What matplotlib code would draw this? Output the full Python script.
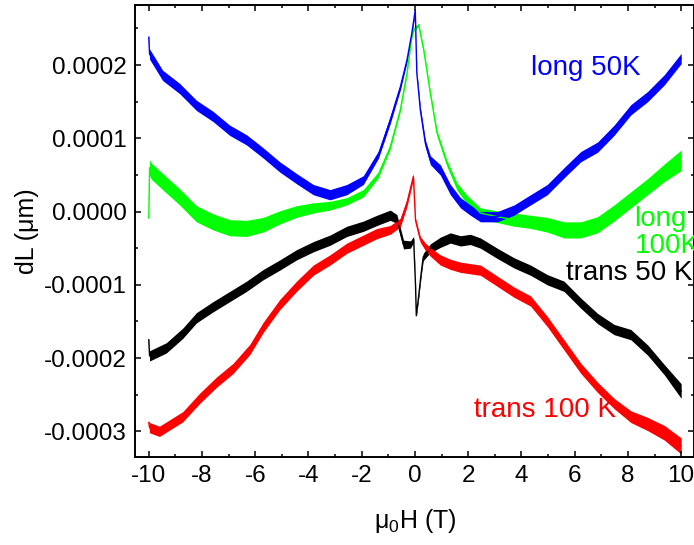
import numpy as np
import matplotlib
matplotlib.use('Agg')
import matplotlib.pyplot as plt
from matplotlib.ticker import MultipleLocator, FuncFormatter

# magnetostriction dL(H) curves, values in units of 1e-4 um
long50_h = [-10.0, -9.97, -9.48, -8.84, -8.21, -7.59, -6.96, -6.33, -5.7, -5.08, -4.45,
            -3.82, -3.19, -2.56, -1.94, -1.37, -0.93, -0.55, -0.30, -0.12, 0.01, 0.07,
            0.20, 0.39, 0.58, 0.95, 1.33, 1.71, 2.08, 2.46, 3.09, 3.72, 4.34, 4.97, 5.6,
            6.23, 6.86, 7.48, 8.11, 8.74, 9.37, 10.0]
long50_dl = [2.38, 2.15, 1.86, 1.68, 1.45, 1.30, 1.11, 0.98, 0.80, 0.61, 0.45,
             0.30, 0.23, 0.30, 0.43, 0.78, 1.25, 1.70, 2.07, 2.43, 2.75, 1.89,
             1.39, 0.93, 0.70, 0.57, 0.30, 0.12, 0.02, -0.07, -0.07, 0.02, 0.16, 0.30, 0.53,
             0.75, 0.88, 1.11, 1.39, 1.57, 1.80, 2.09]
long50_noise = [0.05, 0.07, 0.07, 0.07, 0.07, 0.07, 0.07, 0.07, 0.07, 0.07, 0.07,
                0.07, 0.07, 0.07, 0.06, 0.05, 0.05, 0.04, 0.03, 0.03, 0.02, 0.03,
                0.04, 0.05, 0.06, 0.07, 0.07, 0.07, 0.07, 0.07, 0.07, 0.07, 0.07, 0.07, 0.07,
                0.07, 0.07, 0.07, 0.07, 0.07, 0.07, 0.07]

long100_h = [-10.0, -9.97, -9.9, -9.48, -8.84, -8.21, -7.59, -6.96, -6.33, -5.7, -5.08,
             -4.45, -3.82, -3.19, -2.56, -1.94, -1.38, -0.93, -0.55, -0.30, -0.12, -0.05,
             0.14, 0.33, 0.58, 0.83, 1.2, 1.58, 1.96, 2.46, 3.09, 3.72, 4.34, 4.97, 5.6,
             6.23, 6.86, 7.48, 8.11, 8.74, 9.37, 10.0]
long100_dl = [-0.09, 0.60, 0.55, 0.41, 0.20, -0.03, -0.14, -0.22, -0.23, -0.18, -0.08,
              0.0, 0.05, 0.08, 0.14, 0.25, 0.50, 0.88, 1.39, 1.89, 2.39, 2.48,
              2.55, 2.2, 1.61, 1.07, 0.66, 0.34, 0.16, -0.02, -0.07, -0.11, -0.14, -0.18, -0.25,
              -0.25, -0.18, -0.02, 0.16, 0.34, 0.53, 0.70]
long100_noise = [0.02, 0.11, 0.11, 0.11, 0.11, 0.11, 0.11, 0.11, 0.11, 0.10, 0.09,
                 0.08, 0.07, 0.06, 0.05, 0.05, 0.04, 0.03, 0.02, 0.02, 0.02, 0.02,
                 0.02, 0.02, 0.02, 0.03, 0.04, 0.05, 0.06, 0.07, 0.08, 0.09, 0.09, 0.10, 0.11,
                 0.11, 0.11, 0.11, 0.11, 0.11, 0.12, 0.14]

trans50_h = [-10.0, -9.97, -9.34, -8.72, -8.21, -7.59, -6.96, -6.33, -5.7, -5.08, -4.45,
             -3.82, -3.19, -2.56, -1.94, -1.43, -0.93, -0.68, -0.43, -0.17, -0.05, 0.02,
             0.05, 0.14, 0.23, 0.31, 0.58, 0.95, 1.33, 1.71, 2.08, 2.46, 3.09, 3.72, 4.34,
             4.97, 5.6, 6.23, 6.86, 7.48, 8.11, 8.74, 9.37, 10.0]
trans50_dl = [-1.75, -1.97, -1.86, -1.66, -1.45, -1.30, -1.16, -1.02, -0.86, -0.73, -0.59,
              -0.48, -0.39, -0.27, -0.20, -0.12, -0.05, -0.10, -0.45, -0.45, -0.38, -1.0,
              -1.42, -1.15, -0.85, -0.62, -0.50, -0.42, -0.36, -0.40, -0.38, -0.43, -0.57, -0.70, -0.80,
              -0.93, -1.02, -1.25, -1.46, -1.61, -1.68, -1.89, -2.16, -2.45]
trans50_noise = [0.02, 0.07, 0.07, 0.07, 0.07, 0.07, 0.07, 0.07, 0.07, 0.07, 0.07,
                 0.07, 0.07, 0.07, 0.07, 0.07, 0.07, 0.06, 0.06, 0.05, 0.04, 0.02,
                 0.02, 0.03, 0.04, 0.05, 0.06, 0.07, 0.07, 0.07, 0.07, 0.07, 0.07, 0.07, 0.07,
                 0.07, 0.07, 0.07, 0.07, 0.07, 0.07, 0.07, 0.07, 0.10]

trans100_h = [-10.0, -9.97, -9.6, -8.72, -8.09, -7.46, -6.83, -6.2, -5.7, -5.08, -4.45,
              -3.82, -3.19, -2.56, -1.94, -1.43, -0.93, -0.55, -0.30, -0.06, 0.02, 0.2,
              0.39, 0.58, 0.95, 1.33, 1.71, 2.08, 2.46, 3.09, 3.72, 4.34, 4.97, 5.6, 6.23,
              6.86, 7.48, 8.11, 8.74, 9.37, 10.0]
trans100_dl = [-2.88, -2.95, -3.0, -2.80, -2.55, -2.33, -2.14, -1.88, -1.58, -1.27, -1.02,
               -0.80, -0.66, -0.50, -0.39, -0.30, -0.25, -0.15, 0.12, 0.48, -0.12, -0.38,
               -0.48, -0.55, -0.66, -0.72, -0.76, -0.78, -0.80, -0.95, -1.10, -1.22, -1.50, -1.82, -2.14,
               -2.40, -2.62, -2.80, -2.90, -3.02, -3.20]
trans100_noise = [0.03, 0.07, 0.07, 0.07, 0.07, 0.07, 0.07, 0.07, 0.07, 0.07, 0.07,
                  0.07, 0.07, 0.07, 0.07, 0.07, 0.06, 0.06, 0.05, 0.04, 0.03, 0.04,
                  0.05, 0.06, 0.07, 0.07, 0.07, 0.07, 0.07, 0.07, 0.07, 0.07, 0.07, 0.07, 0.07,
                  0.07, 0.07, 0.08, 0.09, 0.10, 0.11]

curves = [
    (trans50_h, trans50_dl, trans50_noise, 'black'),
    (trans100_h, trans100_dl, trans100_noise, '#ff0000'),
    (long100_h, long100_dl, long100_noise, '#00ff00'),
    (long50_h, long50_dl, long50_noise, '#0000ff'),
]

plt.rcParams.update({
    'font.family': ['Liberation Sans', 'DejaVu Sans'],
    'mathtext.fontset': 'custom',
    'mathtext.rm': 'Liberation Sans',
    'mathtext.default': 'regular',
    'axes.unicode_minus': False,
})

scale = 1e-4
fig = plt.figure(figsize=(6.94, 5.45), dpi=100)
ax = fig.add_axes([0.1952, 0.1615, 0.8055, 0.8293])

for h, dl, noise, color in curves:
    h = np.array(h)
    dl = np.array(dl) * scale
    noise = np.array(noise) * scale
    ax.fill_between(h, dl - noise, dl + noise, color=color, lw=0)
    ax.plot(h, dl, color=color, lw=1.0)

ax.set_xlim(-10.5, 10.5)
ax.set_ylim(-3.35e-4, 2.82e-4)

ax.xaxis.set_major_locator(MultipleLocator(2))
ax.xaxis.set_minor_locator(MultipleLocator(1))
ax.yaxis.set_major_locator(MultipleLocator(1e-4))
ax.yaxis.set_minor_locator(MultipleLocator(0.5e-4))
ax.yaxis.set_major_formatter(FuncFormatter(lambda v, p: f'{round(v / scale) * 0.0001:.4f}'.replace('-0.0000', '0.0000')))
ax.xaxis.set_major_formatter(FuncFormatter(lambda v, p: f'{v:.0f}'))

ax.tick_params(which='both', direction='in', top=True, right=True, width=1.1, labelsize=17.5)
ax.tick_params(which='major', length=4.5, pad=6)
ax.tick_params(which='minor', length=2.5)
for s in ax.spines.values():
    s.set_linewidth(1.4)

ax.set_xlabel(r'μ$_0$H (T)', fontsize=18, labelpad=14)
ax.set_ylabel('dL (μm)', fontsize=18, labelpad=4)

ax.text(4.36, 1.96e-4, 'long 50K', color='#0000ff', fontsize=20, va='center', ha='left')
ax.text(8.25, -0.28e-4, 'long\n100K', color='#00ff00', fontsize=20, va='center', ha='left',
        linespacing=1.05, clip_on=False)
ax.text(5.67, -0.84e-4, 'trans 50 K', color='black', fontsize=20, va='center', ha='left')
ax.text(2.23, -2.71e-4, 'trans 100 K', color='#ff0000', fontsize=20, va='center', ha='left')

fig.savefig('out.png', dpi=100)
